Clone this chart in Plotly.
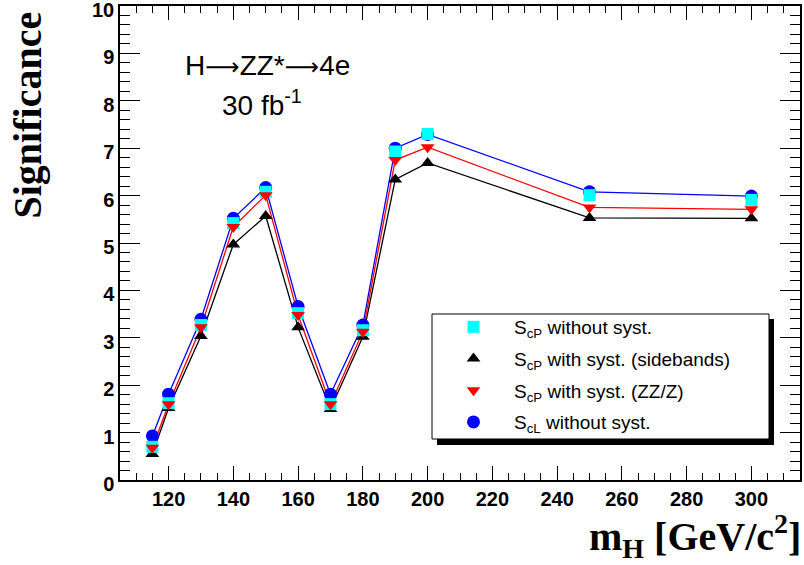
import plotly.graph_objects as go

# ---- data ----
masses = [115, 120, 130, 140, 150, 160, 170, 180, 190, 200, 250, 300]
scp_nosyst = [0.70, 1.62, 3.27, 5.42, 6.08, 3.52, 1.60, 3.16, 6.93, 7.30, 6.01, 5.91]
scp_sidebands = [0.55, 1.52, 3.04, 4.97, 5.57, 3.22, 1.50, 3.02, 6.34, 6.69, 5.53, 5.52]
scp_zz = [0.68, 1.60, 3.22, 5.34, 6.01, 3.48, 1.60, 3.13, 6.75, 7.02, 5.75, 5.71]
scl_nosyst = [0.93, 1.81, 3.39, 5.52, 6.17, 3.66, 1.81, 3.27, 7.00, 7.29, 6.08, 5.99]

names = ["S<sub>cP</sub> without syst.",
         "S<sub>cP</sub> with syst. (sidebands)",
         "S<sub>cP</sub> with syst. (ZZ/Z)",
         "S<sub>cL</sub> without syst."]

W, H = 804, 565
L, R, T, B = 120, 4, 6, 85
pw, ph = W - L - R, H - T - B


def px(x):
    return (x - L) / pw


def py(y):
    return (H - B - y) / ph


fig = go.Figure()

# lines (no legend)
for ys, col in [(scp_sidebands, "black"), (scl_nosyst, "blue"), (scp_zz, "red")]:
    fig.add_trace(go.Scatter(x=masses, y=ys, mode="lines", showlegend=False,
                             line=dict(color=col, width=1.3), hoverinfo="skip"))

# markers (legend)
fig.add_trace(go.Scatter(x=masses, y=scp_sidebands, mode="markers", name=names[1],
                         legendrank=2, legendgroup="b",
                         marker=dict(symbol="triangle-up", size=12, color="black")))
fig.add_trace(go.Scatter(x=masses, y=scl_nosyst, mode="markers", name=names[3],
                         legendrank=4, legendgroup="d",
                         marker=dict(symbol="circle", size=13, color="blue")))
fig.add_trace(go.Scatter(x=masses, y=scp_nosyst, mode="markers", name=names[0],
                         legendrank=1, legendgroup="a",
                         marker=dict(symbol="square", size=12, color="#00ffff")))
fig.add_trace(go.Scatter(x=masses, y=scp_zz, mode="markers", name=names[2],
                         legendrank=3, legendgroup="c",
                         marker=dict(symbol="triangle-down", size=12, color="red")))

tickfont = dict(family="Liberation Sans, Arial", size=20, color="black", weight="bold")
axis_common = dict(showline=True, linecolor="black", linewidth=1.5, mirror="allticks",
                   ticks="inside", tickcolor="black", tickwidth=1, showgrid=False,
                   zeroline=False, tickfont=tickfont, automargin=False,
                   ticklabeloverflow="allow")

fig.update_xaxes(range=[105, 315], tick0=100, dtick=20, ticklen=14,
                 minor=dict(dtick=5, ticklen=7, ticks="inside", tickcolor="black", tickwidth=1),
                 **axis_common)
fig.update_yaxes(range=[0, 10], tick0=0, dtick=1, ticklen=20, ticklabelshift=4,
                 minor=dict(dtick=0.2, ticklen=10, ticks="inside", tickcolor="black", tickwidth=1),
                 **axis_common)

# legend shadow and box
fig.add_shape(type="rect", xref="paper", yref="paper",
              x0=px(437), x1=px(774), y0=py(445), y1=py(319),
              fillcolor="black", line=dict(width=0), layer="above")
fig.add_shape(type="rect", xref="paper", yref="paper",
              x0=px(432), x1=px(769), y0=py(439), y1=py(314),
              fillcolor="white", line=dict(color="black", width=1), layer="above")

arrow = '<span style="font-family:DejaVu Sans;font-size:24px">\u27f6</span>'

fig.update_layout(
    width=W, height=H,
    margin=dict(l=L, r=R, t=T, b=B, autoexpand=False),
    paper_bgcolor="white", plot_bgcolor="white",
    showlegend=True,
    legend=dict(x=px(433), y=py(308), xanchor="left", yanchor="top",
                bgcolor="rgba(0,0,0,0)", borderwidth=0,
                font=dict(family="Liberation Sans, Arial", size=19, color="black"),
                itemwidth=71, tracegroupgap=4,
                traceorder="grouped"),
    annotations=[
        dict(text="H" + arrow + "ZZ*" + arrow + "4e", xref="paper", yref="paper",
             x=px(267), y=py(65),
             xanchor="center", yanchor="middle", showarrow=False,
             font=dict(family="Liberation Sans, Arial", size=28, color="black")),
        dict(text="30 fb<sup>-1</sup>", xref="paper", yref="paper", x=px(262), y=py(103),
             xanchor="center", yanchor="middle", showarrow=False,
             font=dict(family="Liberation Sans, Arial", size=28, color="black")),
        dict(text="<b>Significance</b>", xref="paper", yref="paper", x=px(27), y=py(9),
             xanchor="center", yanchor="top", textangle=-90, showarrow=False,
             font=dict(family="Liberation Serif, Times New Roman", size=40, color="black")),
        dict(text="<b>m<sub>H</sub> [GeV/c<sup>2</sup>]</b>", xref="paper", yref="paper",
             x=px(803), y=py(536), xanchor="right", yanchor="middle", showarrow=False,
             font=dict(family="Liberation Serif, Times New Roman", size=40, color="black")),
    ],
)

fig.write_html("out.html", post_script="document.body.style.margin='0px';",
               config={"displayModeBar": False})
